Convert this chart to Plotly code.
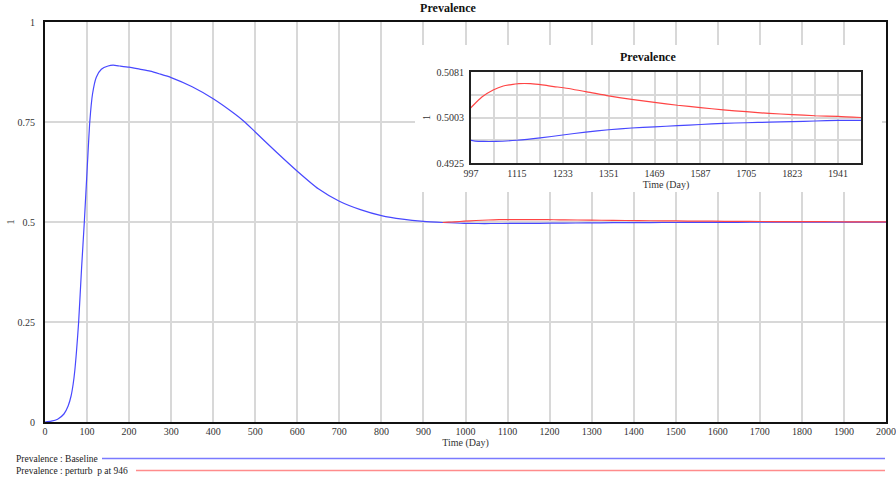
import plotly.graph_objects as go

# ---------------- data ----------------
t_base = [0, 15, 30, 45, 55, 62, 67, 71, 75, 80, 87, 93.5, 100.5, 106.5, 113, 122, 134, 150, 162,
          178, 200, 225, 250, 273, 300, 350, 400, 450, 475, 500, 550, 600, 650, 700, 750, 800, 850,
          900, 946, 997, 1030, 1060, 1115, 1175, 1233, 1292, 1351, 1410, 1469, 1528, 1587, 1646,
          1705, 1764, 1823, 1882, 1941, 2000]
v_base = [0.0, 0.002, 0.007, 0.02, 0.04, 0.065, 0.095, 0.13, 0.178, 0.25, 0.385, 0.5, 0.637, 0.75,
          0.82, 0.862, 0.882, 0.89, 0.892, 0.890, 0.887, 0.882, 0.877, 0.870, 0.861, 0.838, 0.808,
          0.771, 0.750, 0.725, 0.675, 0.627, 0.583, 0.552, 0.531, 0.516, 0.507, 0.5015, 0.4987,
          0.4964, 0.4962, 0.4962, 0.4964, 0.4968, 0.4973, 0.4978, 0.4982, 0.4985, 0.4987, 0.4989,
          0.4991, 0.4993, 0.4994, 0.4995, 0.4996, 0.4997, 0.4998, 0.4998]

t_pert = [946, 960, 975, 997, 1025, 1054, 1080, 1097, 1120, 1150, 1180, 1210, 1235, 1295, 1351,
          1410, 1469, 1528, 1587, 1646, 1705, 1764, 1823, 1882, 1941, 2000]
v_pert = [0.4987, 0.4995, 0.5005, 0.5020, 0.5038, 0.5050, 0.5057, 0.5059, 0.5061, 0.5061, 0.5059,
          0.5056, 0.5054, 0.5047, 0.5040, 0.5034, 0.5029, 0.5024, 0.5020, 0.5016, 0.5013, 0.5010,
          0.5008, 0.5006, 0.5005, 0.5003]

main_yticks = [0, 0.25, 0.5, 0.75, 1]
main_yticktext = ["0", "0.25", "0.5", "0.75", "1"]
inset_yticks = [0.4925, 0.5003, 0.5081]
inset_yticktext = ["0.4925", "0.5003", "0.5081"]
inset_xticks = [997, 1115, 1233, 1351, 1469, 1587, 1705, 1823, 1941]

series_names = ["Prevalence : Baseline", "Prevalence : perturb \u00a0p at 946"]

# ---------------- styling / layout helpers ----------------
W, H = 896, 482
L, R, T, B = 45, 886, 22, 422          # main plot area in pixels
PW, PH = R - L, B - T


def px2x(px):
    return (px - L) / PW


def px2y(py):
    return (B - py) / PH


FONT = "Liberation Serif"
BLUE = "#4848ff"
RED = "#ff4444"
GRID = "#d8d8d8"
TXT = "#333333"

fig = go.Figure()

line_b = dict(color=BLUE, width=1.2, shape="spline", smoothing=0.6)
line_r = dict(color=RED, width=1.2, shape="spline", smoothing=0.6)

# main chart
fig.add_trace(go.Scatter(x=t_base, y=v_base, mode="lines", line=line_b, xaxis="x", yaxis="y", showlegend=False))
fig.add_trace(go.Scatter(x=t_pert, y=v_pert, mode="lines", line=line_r, xaxis="x", yaxis="y", showlegend=False))
# white cover panel behind the inset (empty subplot)
fig.add_trace(go.Scatter(x=[], y=[], xaxis="x2", yaxis="y2", showlegend=False))
# inset
fig.add_trace(go.Scatter(x=t_base, y=v_base, mode="lines", line=line_b, xaxis="x3", yaxis="y3", showlegend=False))
fig.add_trace(go.Scatter(x=t_pert, y=v_pert, mode="lines", line=line_r, xaxis="x3", yaxis="y3", showlegend=False))

tickfont = dict(family=FONT, size=10, color=TXT)
titlefont = dict(family=FONT, size=10, color=TXT)

# inset geometry (pixels)
IL, IR, IT, IB = 471, 861, 72, 163
CL, CR, CT, CB = 415, 882, 45, 192

fig.update_layout(
    width=W, height=H,
    margin=dict(l=L, r=W - R, t=T, b=H - B, autoexpand=False),
    paper_bgcolor="white", plot_bgcolor="white",
    title=dict(text="<b>Prevalence</b>", x=0.5, xref="container", xanchor="center",
               y=1 - 8 / H, yref="container", yanchor="middle",
               font=dict(family=FONT, size=12, color="#111111")),
    xaxis=dict(domain=[0, 1], range=[0, 2000], tick0=0, dtick=100, showgrid=True, gridcolor=GRID, gridwidth=1.5,
               zeroline=False, showline=True, linecolor="#111111", linewidth=2, mirror=True, automargin=False,
               tickfont=tickfont, ticklabelstandoff=-1,
               title=dict(text="Time (Day)", font=titlefont, standoff=0)),
    yaxis=dict(domain=[0, 1], range=[0, 1], tickvals=main_yticks, ticktext=main_yticktext, showgrid=True,
               gridcolor=GRID, gridwidth=1.5, zeroline=False, showline=True, linecolor="#111111", linewidth=2,
               mirror=True, automargin=False, tickfont=tickfont, ticklabelstandoff=6,
               title=dict(text="1", font=titlefont, standoff=1)),
    xaxis2=dict(domain=[px2x(CL), px2x(CR)], anchor="y2", range=[0, 1], showgrid=False, zeroline=False,
                showline=False, showticklabels=False, ticks="", automargin=False),
    yaxis2=dict(domain=[px2y(CB), px2y(CT)], anchor="x2", range=[0, 1], showgrid=False, zeroline=False,
                showline=False, showticklabels=False, ticks="", automargin=False),
    xaxis3=dict(domain=[px2x(IL), px2x(IR)], anchor="y3", range=[997, 2000], tickvals=inset_xticks,
                showgrid=True, gridcolor=GRID, gridwidth=1.5, zeroline=False, showline=True,
                linecolor="#222222", linewidth=2, mirror=True, automargin=False, tickfont=tickfont,
                ticklabelstandoff=0,
                minor=dict(tick0=997, dtick=59, showgrid=True, gridcolor=GRID, gridwidth=1.5, ticks=""),
                title=dict(text="Time (Day)", font=titlefont, standoff=1)),
    yaxis3=dict(domain=[px2y(IB), px2y(IT)], anchor="x3", range=[0.4925, 0.5081], tickvals=inset_yticks,
                ticktext=inset_yticktext, showgrid=True, gridcolor=GRID, gridwidth=1.5, zeroline=False,
                showline=True, linecolor="#222222", linewidth=2, mirror=True, automargin=False,
                tickfont=tickfont, ticklabelstandoff=3,
                minor=dict(tick0=0.4925, dtick=0.0039, showgrid=True, gridcolor=GRID, gridwidth=1.5, ticks=""),
                title=dict(text="1", font=titlefont, standoff=4)),
)

# inset title
fig.add_annotation(text="<b>Prevalence</b>", x=px2x(648), y=px2y(57), xref="paper", yref="paper",
                   showarrow=False, xanchor="center", yanchor="middle",
                   font=dict(family=FONT, size=12, color="#111111"))

# legend below the chart
legend_rows = [(series_names[0], 459, 102, "#7a7aff"), (series_names[1], 471, 136, "#ff8c8c")]
for name, ypx, x0px, col in legend_rows:
    fig.add_annotation(text=name, x=px2x(14), y=px2y(ypx), xref="paper", yref="paper", showarrow=False,
                       xanchor="left", yanchor="middle", font=dict(family=FONT, size=9.5, color="#222222"))
    fig.add_shape(type="line", xref="paper", yref="paper", x0=px2x(x0px), x1=px2x(885),
                  y0=px2y(ypx - 0.5), y1=px2y(ypx - 0.5), line=dict(color=col, width=1.5))

fig.write_html("out.html")
